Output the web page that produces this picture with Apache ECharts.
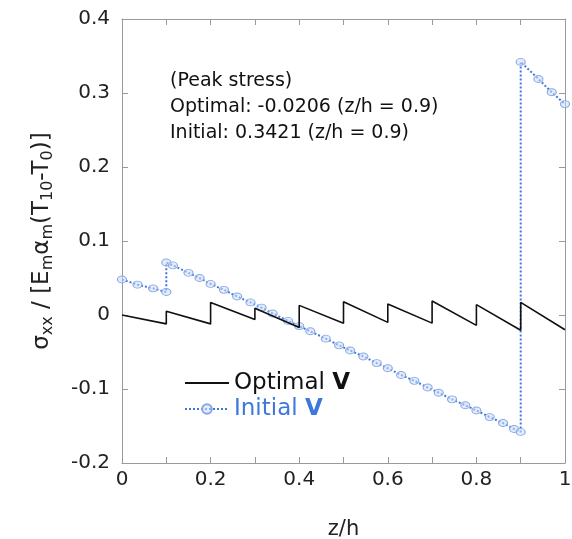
<!DOCTYPE html>
<html>
<head>
<meta charset="utf-8">
<script src="https://cdn.jsdelivr.net/npm/echarts@6/dist/echarts.min.js"></script>
<style>
html,body{margin:0;padding:0;background:#fff;}
#chart{width:572px;height:539px;}
</style>
</head>
<body>
<div id="chart"></div>
<script>
// ---- data ----
const xTickValues = [0, 0.2, 0.4, 0.6, 0.8, 1];
const yTickValues = [-0.2, -0.1, 0, 0.1, 0.2, 0.3, 0.4];

const optimalZ = [0, 0.1, 0.1, 0.2, 0.2, 0.3, 0.3, 0.4, 0.4, 0.5, 0.5, 0.6, 0.6, 0.7, 0.7, 0.8, 0.8, 0.9, 0.9, 1.0];
const optimalS = [0, -0.012, 0.005, -0.012, 0.017, -0.006, 0.009, -0.017, 0.013, -0.011, 0.018, -0.010, 0.015, -0.011, 0.019, -0.014, 0.014, -0.0206, 0.017, -0.020];

const initialZ = [0, 0.035, 0.07, 0.1, 0.1, 0.115, 0.15, 0.175, 0.2, 0.23, 0.26, 0.29, 0.315, 0.34, 0.375, 0.4, 0.425, 0.46, 0.49, 0.515, 0.545, 0.575, 0.6, 0.63, 0.66, 0.69, 0.715, 0.745, 0.775, 0.8, 0.83, 0.86, 0.885, 0.9, 0.9, 0.94, 0.97, 1.0];
const initialS = [0.048, 0.041, 0.036, 0.031, 0.071, 0.067, 0.057, 0.050, 0.042, 0.034, 0.025, 0.017, 0.010, 0.002, -0.008, -0.015, -0.022, -0.032, -0.041, -0.048, -0.056, -0.065, -0.072, -0.081, -0.089, -0.098, -0.105, -0.114, -0.122, -0.129, -0.138, -0.146, -0.154, -0.158, 0.342, 0.319, 0.301, 0.285];

const annotationLines = ['(Peak stress)', 'Optimal: -0.0206 (z/h = 0.9)', 'Initial: 0.3421 (z/h = 0.9)'];

// ---- chart ----
const FONT = '"DejaVu Sans", "Liberation Sans", sans-serif';
const AXIS_COLOR = '#9a9a9a';
const BLUE = '#3f78dc';

const zip = (a, b) => a.map((v, i) => [v, b[i]]);

const chart = echarts.init(document.getElementById('chart'), null, {renderer: 'canvas'});

const fmt1 = v => String(Math.round(v * 10) / 10);

const baseX = {
  type: 'value', min: 0, max: 1, interval: 0.1,
  axisLine: {show: true, onZero: false, lineStyle: {color: AXIS_COLOR, width: 1}},
  axisTick: {show: true, inside: true, length: 6, lineStyle: {color: AXIS_COLOR}},
  splitLine: {show: false}
};
const baseY = {
  type: 'value', min: -0.2, max: 0.4, interval: 0.1,
  axisLine: {show: true, onZero: false, lineStyle: {color: AXIS_COLOR, width: 1}},
  axisTick: {show: true, inside: true, length: 6, lineStyle: {color: AXIS_COLOR}},
  splitLine: {show: false}
};

const option = {
  animation: false,
  backgroundColor: '#fff',
  grid: {left: 122, right: 7, top: 19, bottom: 76, containLabel: false, outerBoundsMode: 'none'},
  xAxis: [
    Object.assign({}, baseX, {
      position: 'bottom',
      axisLabel: {
        show: true, margin: 7, color: '#222', fontSize: 20, fontFamily: FONT,
        formatter: v => (xTickValues.some(t => Math.abs(t - v) < 1e-6) ? fmt1(v) : '')
      },
      name: 'z/h', nameLocation: 'middle', nameGap: 56,
      nameTextStyle: {color: '#222', fontSize: 21, fontFamily: FONT}
    }),
    Object.assign({}, baseX, {position: 'top', axisLabel: {show: false}})
  ],
  yAxis: [
    Object.assign({}, baseY, {
      position: 'left',
      axisLabel: {
        show: true, margin: 12, color: '#222', fontSize: 20, fontFamily: FONT,
        formatter: v => (yTickValues.some(t => Math.abs(t - v) < 1e-6) ? fmt1(v) : '')
      },
      name: '{m|σ}{s|xx}{m| / [E}{s|m}{m|α}{s|m}{m|(T}{s|10}{m|-T}{s|0}{m|)]}',
      nameLocation: 'middle', nameRotate: 90, nameGap: 66,
      nameTextStyle: {
        color: '#222', fontSize: 23, fontFamily: FONT,
        rich: {
          m: {fontSize: 23, fontFamily: FONT, color: '#222'},
          s: {fontSize: 16, fontFamily: FONT, color: '#222', padding: [12, 0, 0, 0]}
        }
      }
    }),
    Object.assign({}, baseY, {position: 'right', axisLabel: {show: false}})
  ],
  legend: {
    show: true,
    orient: 'vertical',
    left: 184, top: 371,
    padding: 0,
    itemGap: 2,
    itemWidth: 44, itemHeight: 12,
    data: [{name: 'Optimal V', itemStyle: {opacity: 0}}, {name: 'Initial V'}],
    formatter: name => name === 'Optimal V' ? '{o|Optimal }{ob|V}' : '{i|Initial }{ib|V}',
    textStyle: {
      fontSize: 23, fontFamily: FONT, lineHeight: 24,
      rich: {
        o: {fontSize: 23, fontFamily: FONT, color: '#111'},
        ob: {fontSize: 23, fontFamily: FONT, color: '#111', fontWeight: 'bold'},
        i: {fontSize: 23, fontFamily: FONT, color: BLUE},
        ib: {fontSize: 23, fontFamily: FONT, color: BLUE, fontWeight: 'bold'}
      }
    }
  },
  graphic: [{
    type: 'text', left: 170, top: 68,
    style: {
      text: annotationLines.join('\n'),
      font: '19px ' + FONT,
      lineHeight: 26,
      fill: '#111'
    }
  }],
  series: [
    {
      name: 'Optimal V', type: 'line', xAxisIndex: 0, yAxisIndex: 0,
      data: zip(optimalZ, optimalS),
      showSymbol: false, symbol: 'none',
      lineStyle: {color: '#111', width: 1.6},
      itemStyle: {color: '#111'},
      z: 3
    },
    {
      name: 'Initial V', type: 'line', xAxisIndex: 0, yAxisIndex: 0,
      data: zip(initialZ, initialS),
      symbol: 'circle', symbolSize: [9, 7], showSymbol: true,
      lineStyle: {color: BLUE, width: 2, type: 'dotted'},
      itemStyle: {color: 'rgba(205,220,248,0.55)', borderColor: '#86a8e6', borderWidth: 1},
      z: 2
    }
  ]
};
chart.setOption(option);
</script>
</body>
</html>
